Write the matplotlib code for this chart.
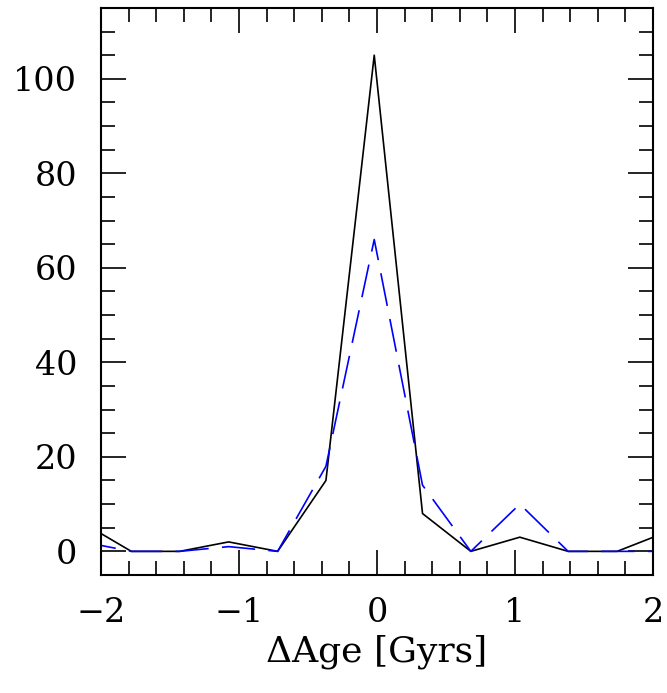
import numpy as np
import matplotlib
matplotlib.use("Agg")
import matplotlib.pyplot as plt
from matplotlib.ticker import MultipleLocator

# bin centres of the age-difference histogram (Gyr)
age_bins = [-2.13, -1.78, -1.43, -1.075, -0.72, -0.37, -0.02, 0.33, 0.68, 1.035, 1.385, 1.74, 2.09]
# counts per bin
counts_all = [6, 0, 0, 2, 0, 15, 105, 8, 0, 3, 0, 0, 4]
counts_sub = [2, 0, 0, 1, 0, 18, 66, 14, 0, 10, 0, 0, 0]

plt.rcParams['font.family'] = ['DejaVu Serif']
plt.rcParams['axes.unicode_minus'] = True

fig = plt.figure(figsize=(6.67, 6.93), dpi=100)
ax = fig.add_axes([0.1514, 0.1703, 0.8276, 0.8182])

ax.plot(age_bins, counts_all, color='black', lw=1.2)
ax.plot(age_bins, counts_sub, color='blue', lw=1.2, dashes=(20, 8))

ax.set_xlim(-2, 2)
ax.set_ylim(-5, 115)
ax.xaxis.set_major_locator(MultipleLocator(1))
ax.xaxis.set_minor_locator(MultipleLocator(0.2))
ax.yaxis.set_major_locator(MultipleLocator(20))
ax.yaxis.set_minor_locator(MultipleLocator(5))

ax.tick_params(which='both', direction='in', top=True, right=True, width=1.2, labelsize=24)
ax.tick_params(which='major', length=18)
ax.tick_params(which='minor', length=10)
ax.tick_params(axis='x', which='major', pad=16)
ax.tick_params(axis='y', which='major', pad=17)
for s in ax.spines.values():
    s.set_linewidth(1.5)

ax.set_xlabel('ΔAge [Gyrs]', fontsize=26, labelpad=4)

fig.savefig('out.png', dpi=100)
